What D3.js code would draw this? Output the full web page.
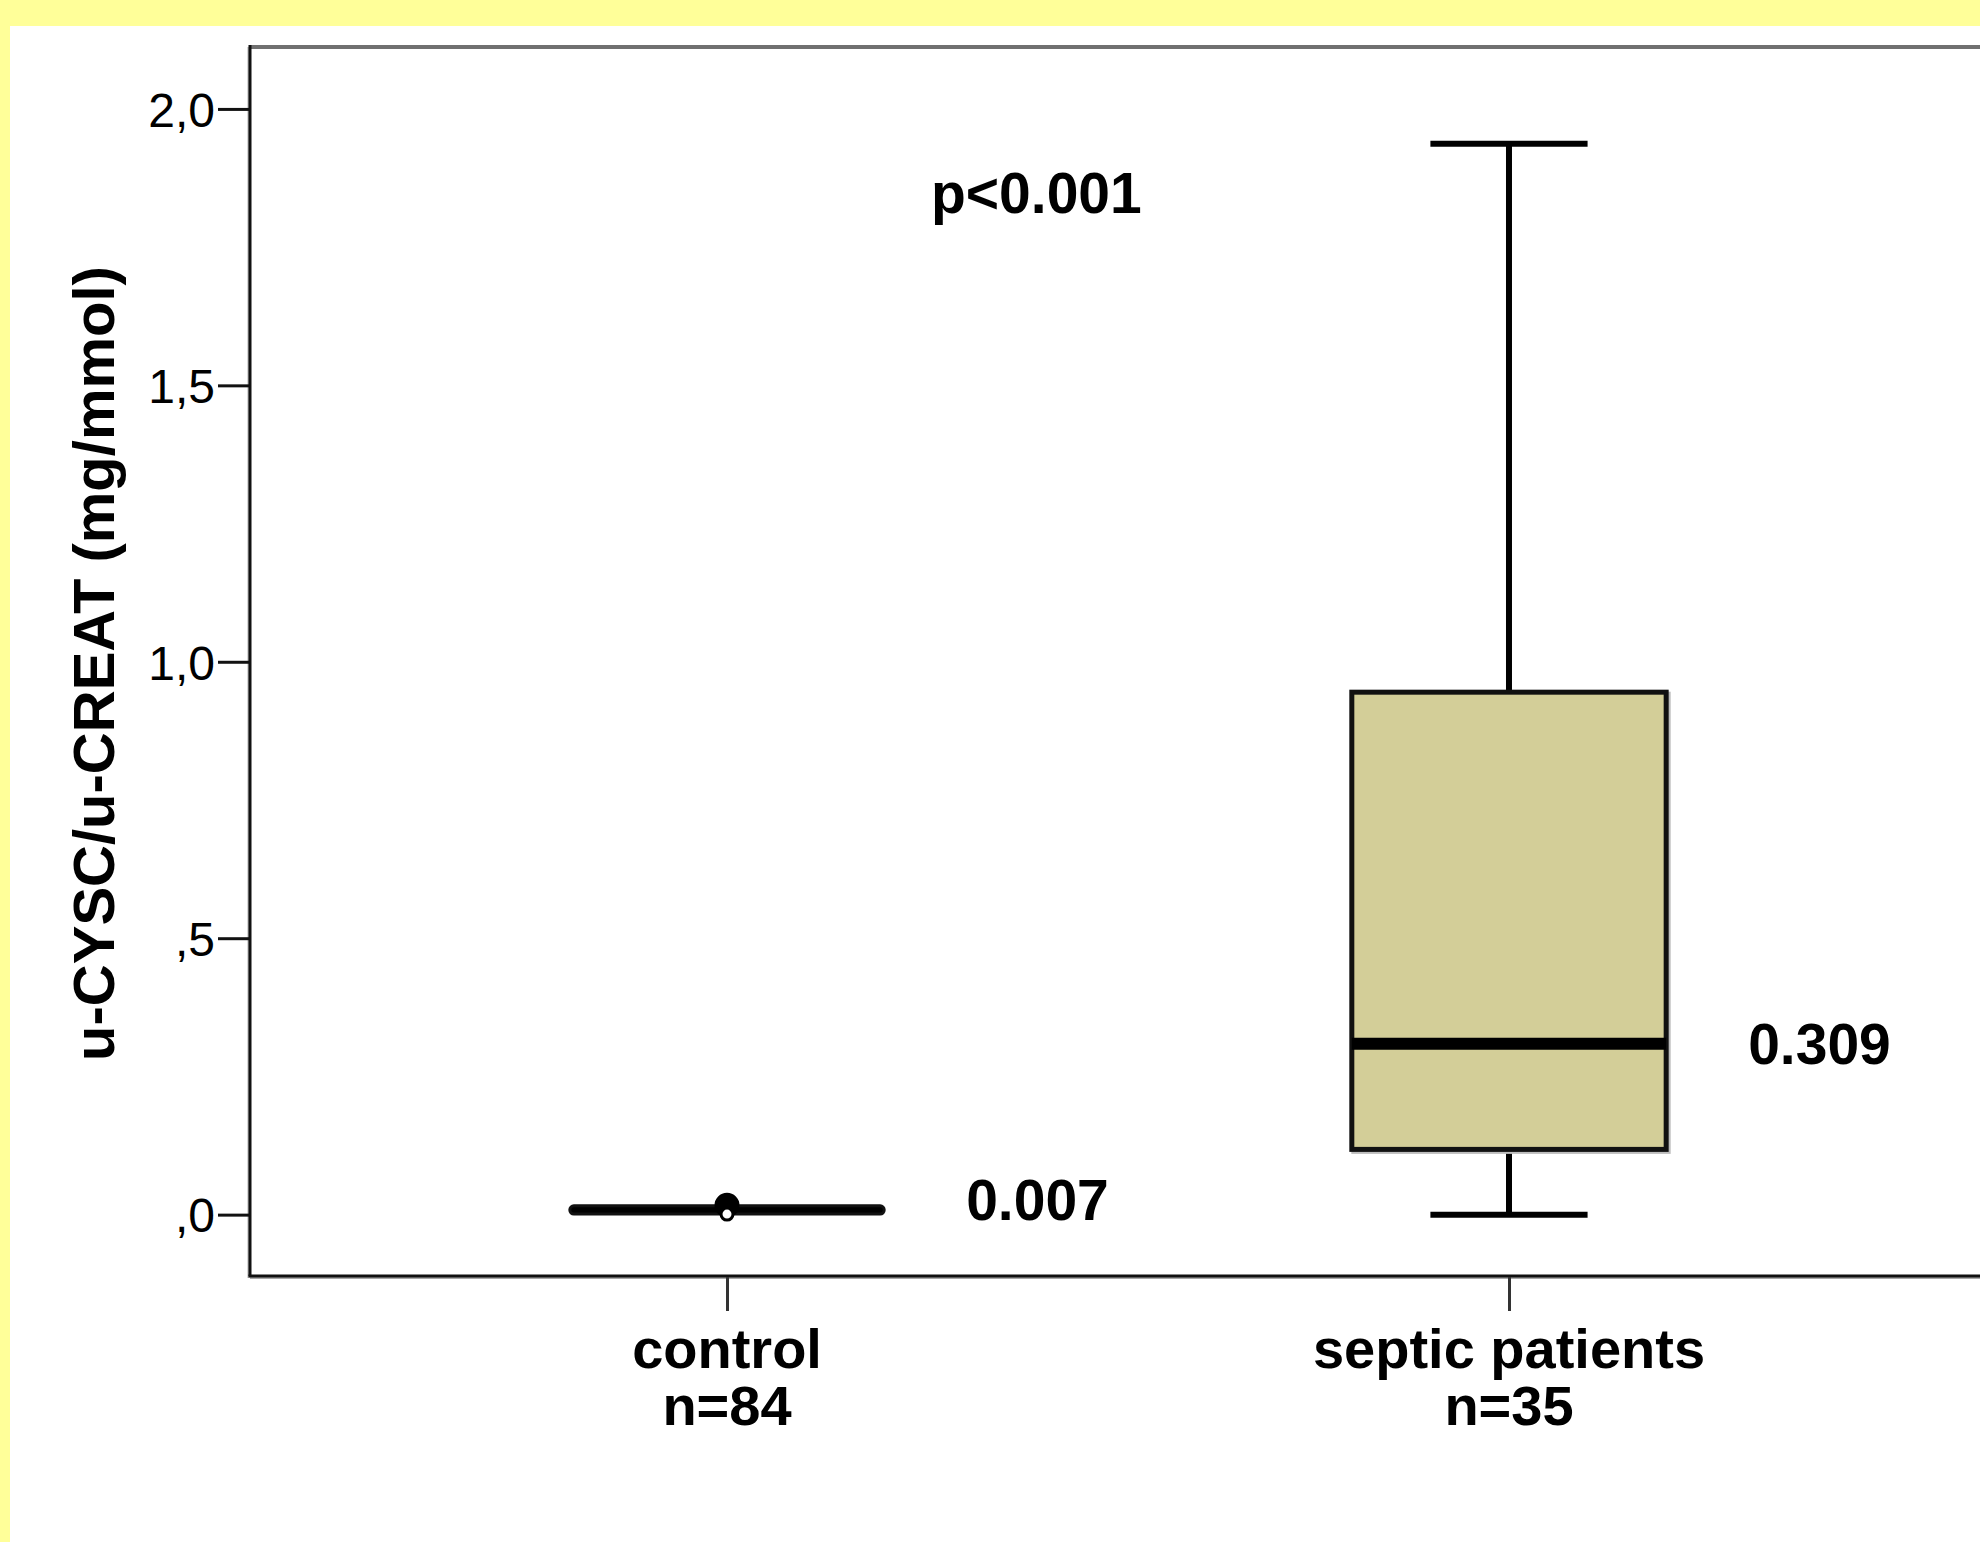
<!DOCTYPE html>
<html>
<head>
<meta charset="utf-8">
<script src="https://cdn.jsdelivr.net/npm/d3@7"></script>
<style>
  html, body { margin: 0; padding: 0; background: #FFFF99; }
  svg { display: block; }
  text { font-family: "Liberation Sans", Arial, sans-serif; fill: #000; }
</style>
</head>
<body>
<script>
// ---- data ----
const categories = ["control", "septic patients"];
const sampleSizes = ["n=84", "n=35"];
const whiskerLow  = [0.001, 0.000];
const q1          = [0.002, 0.118];
const medians     = [0.007, 0.309];
const q3          = [0.014, 0.945];
const whiskerHigh = [0.016, 1.937];
const outliers    = [[0.017, 0.001], []];
const medianLabels = ["0.007", "0.309"];
const yTicks = [0, 0.5, 1.0, 1.5, 2.0];
const yTickLabels = [",0", ",5", "1,0", "1,5", "2,0"];
const pValueText = "p<0.001";
const yTitle = "u-CYSC/u-CREAT (mg/mmol)";

// ---- layout ----
const W = 1980, H = 1542;
const svg = d3.select("body").append("svg").attr("width", W).attr("height", H);

svg.append("rect").attr("x", 0).attr("y", 0).attr("width", W).attr("height", H).attr("fill", "#FFFF99");
svg.append("rect").attr("x", 10).attr("y", 26).attr("width", W - 10).attr("height", H - 26).attr("fill", "#FFFFFF");

const frame = {left: 250, top: 47, right: 1986, bottom: 1276};

const x = d3.scalePoint().domain(categories).range([frame.left, frame.right]).padding(0.61);
const y = d3.scaleLinear().domain([-0.111, 2.112]).range([frame.bottom, frame.top]);
const boxW = x.step() * 0.402;
const capW = boxW * 0.5;

// frame
svg.append("line").attr("x1", frame.left).attr("x2", W + 10).attr("y1", frame.top).attr("y2", frame.top)
  .attr("stroke", "#707070").attr("stroke-width", 4);
svg.append("line").attr("x1", frame.left - 1.5).attr("x2", frame.left - 1.5).attr("y1", frame.top).attr("y2", frame.bottom + 2)
  .attr("stroke", "#b0b0b0").attr("stroke-width", 2);
svg.append("line").attr("x1", frame.left).attr("x2", frame.left).attr("y1", frame.top - 2).attr("y2", frame.bottom)
  .attr("stroke", "#111").attr("stroke-width", 3);
svg.append("line").attr("x1", frame.left).attr("x2", W + 10).attr("y1", frame.bottom + 2).attr("y2", frame.bottom + 2)
  .attr("stroke", "#a8a8a8").attr("stroke-width", 2);
svg.append("line").attr("x1", frame.left - 1.5).attr("x2", W + 10).attr("y1", frame.bottom).attr("y2", frame.bottom)
  .attr("stroke", "#111").attr("stroke-width", 3);

// y axis
const yAxis = d3.axisLeft(y).tickValues(yTicks).tickSize(32).tickPadding(3)
  .tickFormat((d, i) => yTickLabels[i]);
const gy = svg.append("g").attr("transform", `translate(${frame.left},0)`).call(yAxis);
gy.select(".domain").remove();
gy.selectAll(".tick line").attr("stroke", "#111").attr("stroke-width", 3);
gy.selectAll(".tick text").attr("font-size", 48).attr("font-family", "'Liberation Sans', Arial, sans-serif")
  .attr("fill", "#000").attr("dy", "0.36em");

// x axis
const xAxis = d3.axisBottom(x).tickSize(34).tickFormat("");
const gx = svg.append("g").attr("transform", `translate(0,${frame.bottom + 1})`).call(xAxis);
gx.select(".domain").remove();
gx.selectAll(".tick line").attr("stroke", "#333").attr("stroke-width", 3);

// category labels
const labels = svg.append("g");
categories.forEach((c, i) => {
  labels.append("text").attr("x", x(c)).attr("y", 1368).attr("text-anchor", "middle")
    .attr("font-size", 56).attr("font-weight", "bold").text(c);
  labels.append("text").attr("x", x(c)).attr("y", 1425).attr("text-anchor", "middle")
    .attr("font-size", 56).attr("font-weight", "bold").text(sampleSizes[i]);
});

// y title
svg.append("text")
  .attr("transform", `translate(114,${(frame.top + frame.bottom) / 2 + 2}) rotate(-90)`)
  .attr("text-anchor", "middle").attr("font-size", 58).attr("font-weight", "bold").text(yTitle);

// boxes
const boxes = svg.append("g");
categories.forEach((c, i) => {
  const cx = x(c);
  const g = boxes.append("g");
  const isFlat = (y(q1[i]) - y(q3[i])) < 20;
  if (!isFlat) {
    g.append("line").attr("x1", cx).attr("x2", cx).attr("y1", y(whiskerHigh[i])).attr("y2", y(q3[i]))
      .attr("stroke", "#000").attr("stroke-width", 6);
    g.append("line").attr("x1", cx).attr("x2", cx).attr("y1", y(q1[i])).attr("y2", y(whiskerLow[i]))
      .attr("stroke", "#000").attr("stroke-width", 6);
    g.append("line").attr("x1", cx - capW / 2).attr("x2", cx + capW / 2)
      .attr("y1", y(whiskerHigh[i])).attr("y2", y(whiskerHigh[i])).attr("stroke", "#000").attr("stroke-width", 6);
    g.append("line").attr("x1", cx - capW / 2).attr("x2", cx + capW / 2)
      .attr("y1", y(whiskerLow[i])).attr("y2", y(whiskerLow[i])).attr("stroke", "#000").attr("stroke-width", 6);
    g.append("rect").attr("x", cx - boxW / 2 + 2).attr("y", y(q3[i]) + 2)
      .attr("width", boxW).attr("height", y(q1[i]) - y(q3[i]))
      .attr("fill", "none").attr("stroke", "#bdbdbd").attr("stroke-width", 5);
    g.append("rect").attr("x", cx - boxW / 2).attr("y", y(q3[i]))
      .attr("width", boxW).attr("height", y(q1[i]) - y(q3[i]))
      .attr("fill", "#D3CE98").attr("stroke", "#111").attr("stroke-width", 5);
    g.append("line").attr("x1", cx - boxW / 2).attr("x2", cx + boxW / 2)
      .attr("y1", y(medians[i])).attr("y2", y(medians[i])).attr("stroke", "#000").attr("stroke-width", 12);
  } else {
    g.append("rect").attr("x", cx - boxW / 2).attr("y", y(whiskerHigh[i]))
      .attr("width", boxW).attr("height", y(whiskerLow[i]) - y(whiskerHigh[i]))
      .attr("rx", 4).attr("fill", "#000").attr("stroke", "#111").attr("stroke-width", 3);
  }
  outliers[i].forEach(v => {
    const above = v >= medians[i];
    g.append("circle").attr("cx", cx).attr("cy", y(v)).attr("r", above ? 11 : 6)
      .attr("fill", above ? "#000" : "#fff").attr("stroke", "#000").attr("stroke-width", 3);
  });
  const dy = isFlat ? 9 : 20;
  svg.append("text").attr("x", cx + boxW / 2 + 82).attr("y", y(medians[i]) + dy)
    .attr("font-size", 57).attr("font-weight", "bold").text(medianLabels[i]);
});

// p-value
svg.append("text").attr("x", 931).attr("y", 213).attr("font-size", 57).attr("font-weight", "bold").text(pValueText);
</script>
</body>
</html>
